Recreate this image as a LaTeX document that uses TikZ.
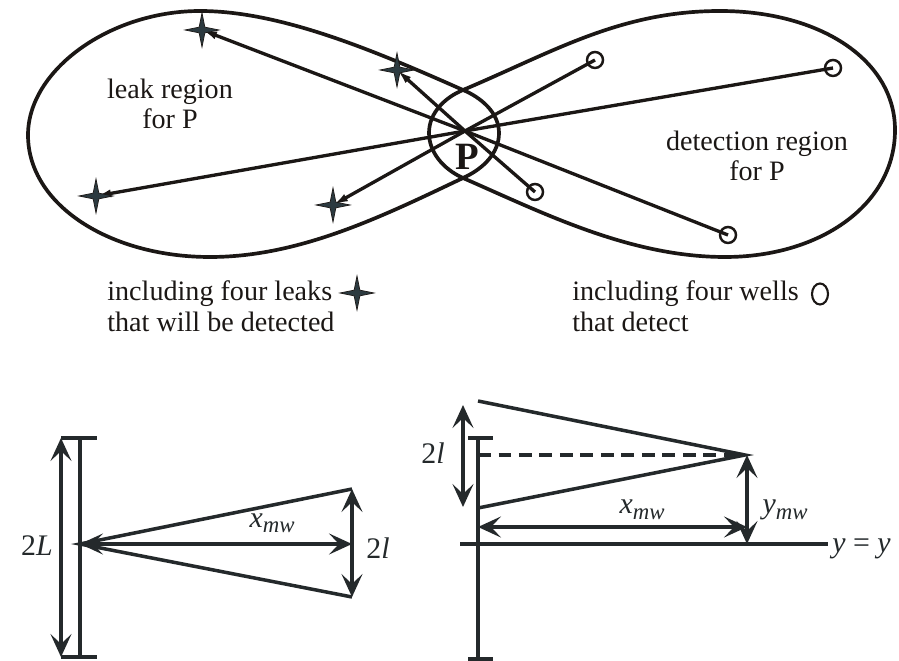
\documentclass[tikz,border=0pt]{standalone}
\usepackage{fontspec}
\setmainfont{Liberation Serif}
\usepackage{xcolor}
\definecolor{plumeInk}{HTML}{1B1715}
\definecolor{plumeStar}{HTML}{2C3A40}
\definecolor{plumeDim}{HTML}{24292B}
\usepackage{tikz}
\usetikzlibrary{
  shapes.geometric,
  arrows.meta,
  positioning,
  backgrounds
}
\newcommand{\mwidx}[1]{\raisebox{-0.4ex}{\fontsize{13}{13}\selectfont #1}}
\tikzset{
  lobe/.style={draw=plumeInk,line width=2.1pt},
  ray/.style={draw=plumeInk,line width=1.9pt},
  leakray/.style={ray,-{Latex[length=0.3cm,width=0.16cm]}},
  leakstar/.style={
    star,star points=4,star point ratio=4.2,
    minimum size=0.68cm,inner sep=0pt,
    draw=plumeInk,line width=0.4pt,fill=plumeStar
  },
  wellring/.style={
    circle,draw=plumeInk,line width=1.4pt,
    minimum size=0.32cm,inner sep=0pt
  },
  lbl/.style={font=\fontsize{16}{17.5}\selectfont,text=plumeInk,inner sep=0pt},
  dimlbl/.style={font=\fontsize{17}{18}\selectfont,text=plumeDim,inner sep=0pt},
  dimline/.style={draw=plumeDim,line width=2pt},
  dimarr/.style={
    dimline,
    {Stealth[length=0.46cm,width=0.42cm,inset=0.2cm]}-{Stealth[length=0.46cm,width=0.42cm,inset=0.2cm]}
  },
}

\begin{document}
\begin{tikzpicture}[x=0.02cm,y=-0.02cm]
\useasboundingbox (0,0) rectangle (899,661);

%% ── Figure eight: leak lobe and detection lobe ──────────────
\draw[lobe] (499,133) .. controls (499,112) and (480,97) .. (463,90)
  .. controls (373,50) and (280,11) .. (200,11)
  .. controls (110,11) and (28,70) .. (28,135)
  .. controls (28,205) and (110,257) .. (210,257)
  .. controls (300,257) and (383,216) .. (463,178)
  .. controls (485,168) and (499,152) .. (499,133) -- cycle;
\draw[lobe] (429,133) .. controls (429,112) and (446,97) .. (463,90)
  .. controls (553,52) and (620,11) .. (720,11)
  .. controls (820,11) and (895,60) .. (895,130)
  .. controls (895,205) and (820,257) .. (725,257)
  .. controls (630,257) and (543,213) .. (463,178)
  .. controls (443,169) and (429,152) .. (429,133) -- cycle;

%% ── Point P, leaks and wells ─────────────────────────────
\coordinate (ctr) at (465,131);
\node[font=\fontsize{22}{22}\selectfont\bfseries,text=plumeInk,inner sep=0pt] (P) at (467,157) {P};

\node[leakstar] (lk1) at (202,30) {};
\node[leakstar] (lk2) at (397,70) {};
\node[leakstar] (lk3) at (96,196) {};
\node[leakstar] (lk4) at (333,205) {};

\node[wellring] (w1) at (595,60) {};
\node[wellring] (w2) at (833,68) {};
\node[wellring] (w3) at (535,192) {};
\node[wellring] (w4) at (728,235) {};

\begin{scope}[on background layer]
\draw[leakray] (w4.center) -- (ctr) -- (lk1.center);
\draw[leakray] (w3.center) -- (ctr) -- (lk2.center);
\draw[leakray] (w2.center) -- (ctr) -- (lk3.center);
\draw[leakray] (w1.center) -- (ctr) -- (lk4.center);
\end{scope}

\node[lbl,align=center] (leakreg) at (170,104) {leak region\\for P};
\node[lbl,align=center] (detreg) at (757,156) {detection region\\for P};

%% ── Legend ───────────────────────────────────────────────
\node[lbl,align=left,anchor=west] (leaktxt) at (107,306) {including four leaks\\that will be detected};
\node[leakstar] (keystar) at (357,293) {};
\node[lbl,align=left,anchor=west] (welltxt) at (572,306) {including four wells\\that detect};
\node[ellipse,draw=plumeInk,line width=1.2pt,minimum width=0.32cm,minimum height=0.42cm,inner sep=0pt]
  (keyring) at (820,294) {};

%% ── Left sketch: leak point facing the well ──────────────
\coordinate (apxA) at (80,544);
\coordinate (hiA) at (352,489);
\coordinate (loA) at (352,597);
\draw[dimline] (61,438) -- (97,438) (61,657) -- (97,657) (80,438) -- (80,657);
\draw[dimline] (hiA) -- (apxA) -- (loA);
\draw[dimarr] (61,438) -- (61,657);
\draw[dimarr] (apxA) -- (352,544);
\draw[dimarr] (hiA) -- (loA);
\node[dimlbl] (twoL) at (37,546) {2\textit{L}};
\node[dimlbl] (xmwA) at (272,523) {\textit{x\mwidx{mw}}};
\node[dimlbl] (twolA) at (378,548) {2\textit{l}};

%% ── Right sketch: well offset above y = y ────────────────
\coordinate (apxB) at (745,455);
\draw[dimline] (468,438) -- (493,438) (468,659) -- (493,659) (478,438) -- (478,659);
\draw[dimline] (478,401) -- (apxB) -- (478,508);
\draw[dimline,dash pattern=on 0.26cm off 0.15cm] (478,455) -- (apxB);
\draw[dimline] (460,544) -- (828,544);
\draw[dimarr] (463,405) -- (463,507);
\draw[dimarr] (478,527) -- (747,527);
\draw[dimarr] (747,455) -- (747,544);
\node[dimlbl] (twolB) at (433,453) {2\textit{l}};
\node[dimlbl] (xmwB) at (642,510) {\textit{x\mwidx{mw}}};
\node[dimlbl] (ymw) at (785,510) {\textit{y\mwidx{mw}}};
\node[dimlbl,anchor=west] (yeq) at (832,549) {\textit{y} = \textit{y}};

\end{tikzpicture}
\end{document}
